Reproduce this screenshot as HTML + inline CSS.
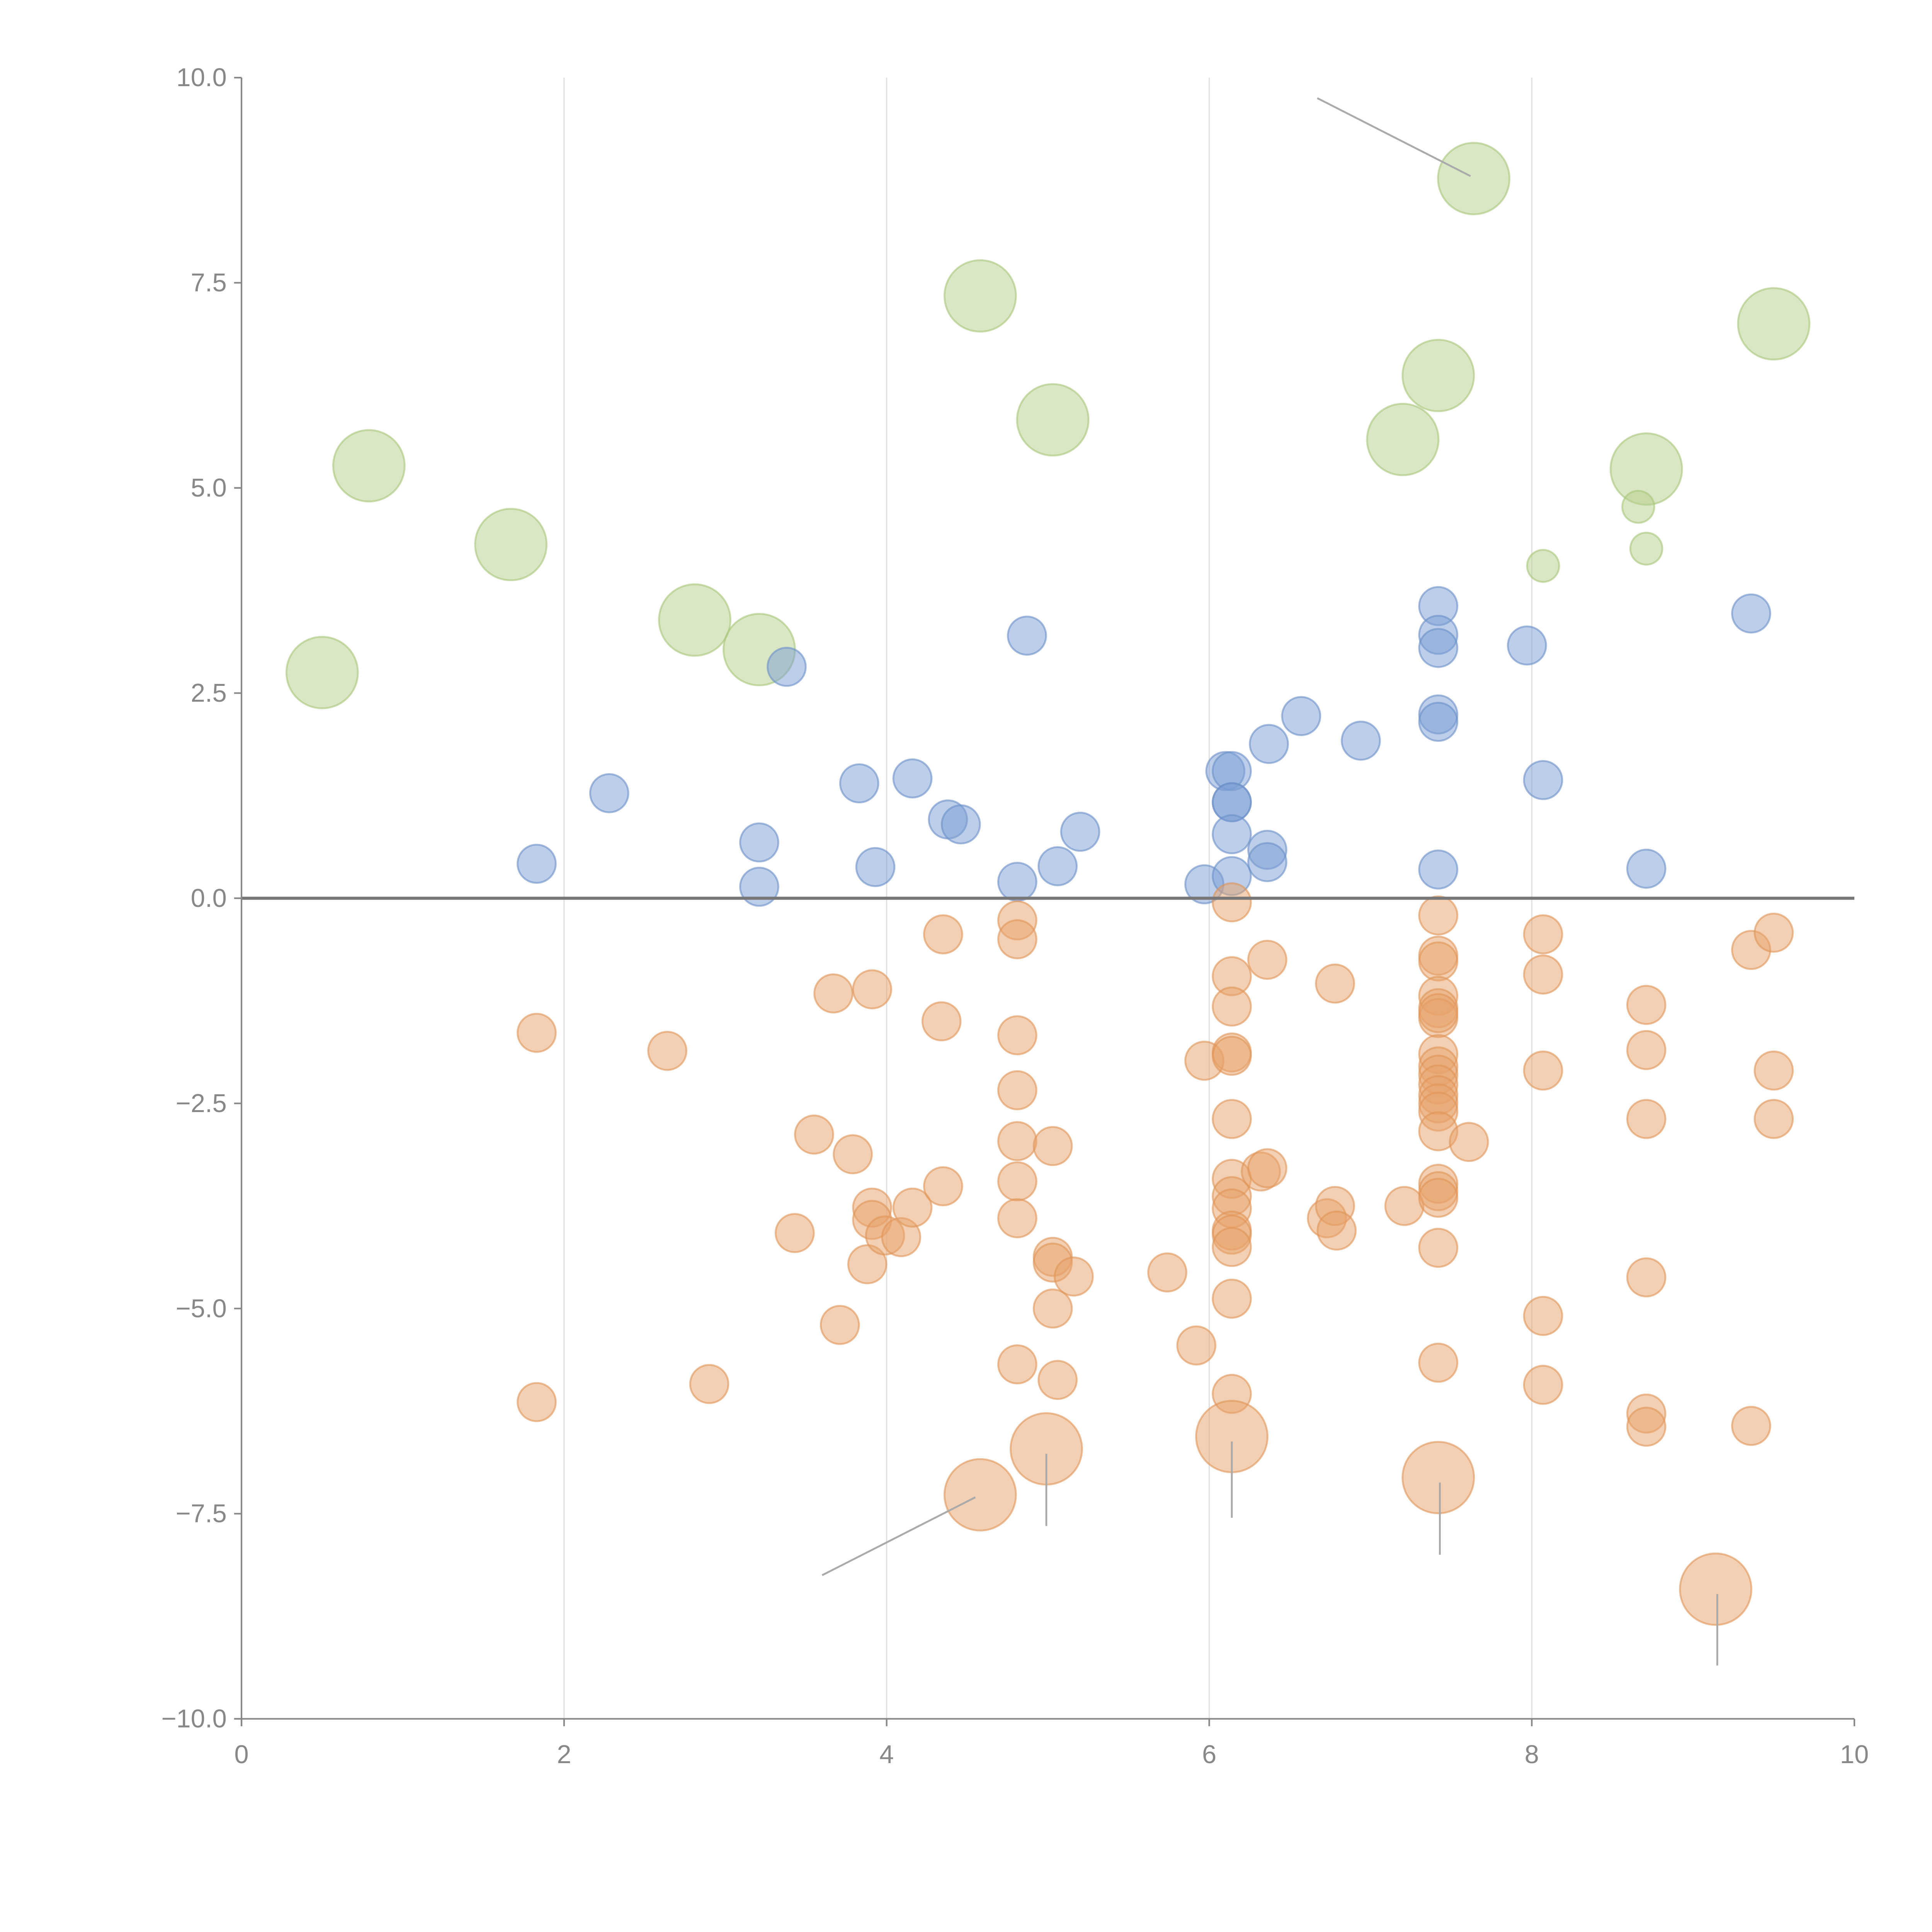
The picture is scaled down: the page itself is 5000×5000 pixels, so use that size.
<!DOCTYPE html>
<html><head><meta charset="utf-8"><style>
html,body{margin:0;padding:0;background:#fff;}
svg{display:block;}
text{font-family:"Liberation Sans",sans-serif;fill:#888;}
</style></head><body>
<svg id="chart" width="5000" height="5000" viewBox="0 0 1568 1568" xmlns="http://www.w3.org/2000/svg">
<g id="grid"></g>
<g id="marks"></g>
<g id="axes"></g>
</svg>
<script>
const xTicks=[0,2,4,6,8,10];
const yTicks=[-10,-7.5,-5,-2.5,0,2.5,5,7.5,10];
const yTickLabels=["\u221210.0","\u22127.5","\u22125.0","\u22122.5","0.0","2.5","5.0","7.5","10.0"];

const greenX=[0.5,0.79,1.67,2.81,3.21,4.58,5.03,7.2,7.42,7.64,8.71,9.5,8.66,8.71,8.07];
const greenY=[2.75,5.27,4.31,3.39,3.03,7.34,5.83,5.59,6.37,8.77,5.23,7.0,4.77,4.26,4.05];
const greenSize=[3,3,3,3,3,3,3,3,3,3,3,3,1,1,1];

const blueX=[1.83,2.28,3.21,3.21,3.38,3.83,3.93,4.16,4.38,4.46,4.81,4.87,5.06,5.2,5.97,6.1,6.14,6.14,6.14,6.14,6.14,6.37,6.36,6.36,6.57,6.94,7.42,7.42,7.42,7.42,7.42,7.42,7.97,8.07,8.71,9.36];
const blueY=[0.42,1.28,0.68,0.14,2.82,1.40,0.38,1.46,0.96,0.9,0.2,3.2,0.39,0.81,0.17,1.55,1.55,1.17,1.17,0.78,0.27,1.88,0.59,0.44,2.22,1.92,3.56,3.21,3.05,2.24,2.15,0.35,3.08,1.44,0.36,3.47];

const orangeX=[1.83,1.83,2.64,2.9,3.43,3.55,3.67,3.71,3.79,3.88,3.91,3.91,3.91,3.99,4.09,4.16,4.34,4.35,4.35,4.81,4.81,4.81,4.81,4.81,4.81,4.81,4.81,5.03,5.03,5.03,5.03,5.06,5.16,5.74,5.92,5.97,6.14,6.14,6.14,6.14,6.14,6.14,6.14,6.14,6.14,6.14,6.14,6.14,6.14,6.14,6.36,6.32,6.36,6.73,6.78,6.79,6.78,7.21,7.42,7.42,7.42,7.42,7.42,7.42,7.42,7.42,7.42,7.42,7.42,7.42,7.42,7.42,7.42,7.61,7.42,7.42,7.42,7.42,7.42,8.07,8.07,8.07,8.07,8.07,8.71,8.71,8.71,8.71,8.71,8.71,9.36,9.5,9.5,9.5,9.36,4.58,4.99,6.14,7.42,9.14];
const orangeY=[-1.64,-6.14,-1.86,-5.92,-4.08,-2.88,-1.16,-5.2,-3.12,-4.46,-1.11,-3.77,-3.92,-4.11,-4.13,-3.77,-1.5,-0.44,-3.51,-0.27,-0.5,-1.67,-2.34,-2.96,-3.45,-3.9,-5.68,-3.02,-4.37,-4.44,-5.0,-5.87,-4.61,-4.56,-5.45,-1.98,-0.05,-0.95,-1.32,-1.88,-1.92,-2.69,-3.42,-3.63,-3.78,-4.05,-4.1,-4.25,-4.88,-6.04,-0.75,-3.33,-3.29,-3.9,-3.75,-4.05,-1.04,-3.75,-0.21,-0.7,-0.77,-1.19,-1.34,-1.46,-1.4,-1.9,-2.05,-2.15,-2.27,-2.4,-2.5,-2.6,-2.84,-2.97,-3.48,-3.57,-3.65,-4.26,-5.66,-0.44,-0.93,-2.1,-5.09,-5.93,-1.3,-1.85,-2.69,-4.62,-6.28,-6.44,-0.63,-0.42,-2.1,-2.69,-6.43,-7.27,-6.71,-6.56,-7.06,-8.42];
const orangeSize=orangeX.map((v,i)=>i>=orangeX.length-5?3:1.1);

const leaderX1=[6.67,3.6,4.99,6.14,7.43,9.15];
const leaderY1=[9.75,-8.25,-6.77,-6.62,-7.12,-8.48];
const leaderX2=[7.62,4.55,4.99,6.14,7.43,9.15];
const leaderY2=[8.8,-7.3,-7.65,-7.55,-8.0,-9.35];

const L=196,R=1505,T=63,B=1395;
const sx=v=>L+(v-0)/10*(R-L);
const sy=v=>B-(v+10)/20*(B-T);
const NS="http://www.w3.org/2000/svg";
function mk(tag,attrs,parent){const e=document.createElementNS(NS,tag);for(const k in attrs)e.setAttribute(k,attrs[k]);parent.appendChild(e);return e;}
const grid=document.getElementById('grid'),marks=document.getElementById('marks'),axes=document.getElementById('axes');

xTicks.forEach(t=>{if(t>0&&t<10){
 const g=mk('line',{x1:sx(t),x2:sx(t),y1:T,y2:B,stroke:'#e0e0e0','stroke-width':1},grid);
 
 
}});

function bubbles(xs,ys,sizes,fill,stroke,name){
 xs.forEach((x,i)=>{
  const r=sizes[i]>=3?29:(sizes[i]>1.05&&name==='orange'?15.5:(sizes[i]<=1&&name==='green'?13:15.5));
  const c=mk('circle',{cx:sx(x),cy:sy(ys[i]),r:r,fill:fill,'fill-opacity':0.5,stroke:stroke,'stroke-opacity':0.6,'stroke-width':1.5},marks);
  
  
 });
}
bubbles(greenX,greenY,greenSize,'#b5d08a','#a6c67a','green');
bubbles(blueX,blueY,blueX.map(()=>1),'#7a9ed3','#6a90c8','blue');
bubbles(orangeX,orangeY,orangeSize,'#e8a26a','#e09556','orange');

leaderX1.forEach((x,i)=>{
 const l=mk('line',{x1:sx(x),y1:sy(leaderY1[i]),x2:sx(leaderX2[i]),y2:sy(leaderY2[i]),stroke:'#aaa','stroke-width':1.5},marks);
 
 
});

const z=mk('line',{x1:L,x2:R,y1:sy(0),y2:sy(0),stroke:'#777','stroke-width':2.5},axes);


const ya=mk('line',{x1:L,x2:L,y1:T,y2:B+6,stroke:'#888','stroke-width':1.3},axes);


const xa=mk('line',{x1:L-6,x2:R,y1:B,y2:B,stroke:'#888','stroke-width':1.3},axes);



xTicks.forEach(t=>{
 const tk=mk('line',{x1:sx(t),x2:sx(t),y1:B,y2:B+6,stroke:'#888','stroke-width':1.3},axes);
 
 
 const tx=mk('text',{x:sx(t),y:B+36,'text-anchor':'middle','font-size':21},axes);
 tx.textContent=String(t);
 
 
});
yTicks.forEach((t,i)=>{
 const tk=mk('line',{x1:L-6,x2:L,y1:sy(t),y2:sy(t),stroke:'#888','stroke-width':1.3},axes);
 
 
 const tx=mk('text',{x:L-12,y:sy(t)+7,'text-anchor':'end','font-size':21},axes);
 tx.textContent=yTickLabels[i];
 
 
});
</script>
</body></html>
